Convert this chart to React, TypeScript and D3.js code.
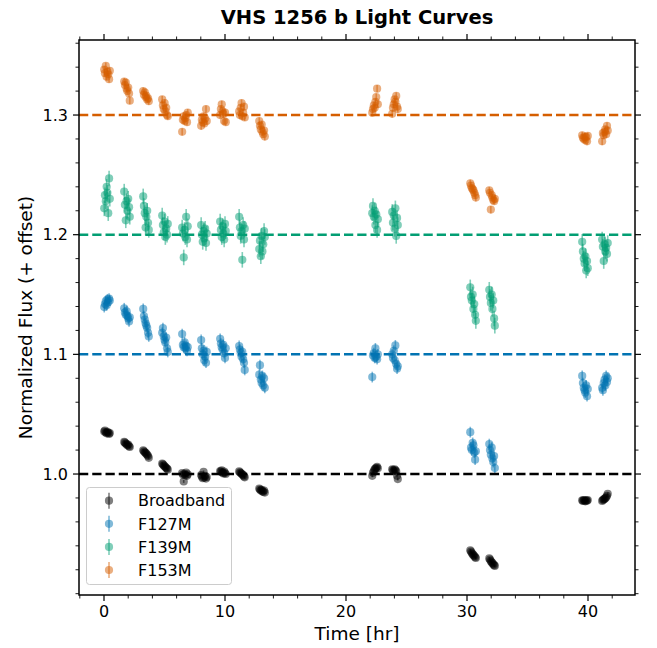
import React from "react";
import * as d3 from "d3";

// Observation times (hr), 8 exposures per HST orbit, shared by all series
const times: number[] = [
  0.02, 0.08, 0.15, 0.22, 0.28, 0.35, 0.42, 0.48,
  1.67, 1.73, 1.8, 1.87, 1.93, 2.0, 2.07, 2.13,
  3.24, 3.3, 3.37, 3.44, 3.5, 3.57, 3.64, 3.7,
  4.81, 4.87, 4.94, 5.01, 5.07, 5.14, 5.21, 5.27,
  6.46, 6.52, 6.59, 6.66, 6.72, 6.79, 6.86, 6.92,
  8.03, 8.09, 8.16, 8.23, 8.29, 8.36, 8.43, 8.49,
  9.6, 9.66, 9.73, 9.8, 9.86, 9.93, 10.0, 10.06,
  11.17, 11.23, 11.3, 11.37, 11.43, 11.5, 11.57, 11.63,
  12.83, 12.89, 12.96, 13.03, 13.09, 13.16, 13.23, 13.29,
  22.17, 22.23, 22.3, 22.37, 22.43, 22.5, 22.57, 22.63,
  23.82, 23.88, 23.95, 24.02, 24.08, 24.15, 24.22, 24.28,
  30.27, 30.33, 30.4, 30.47, 30.53, 30.6, 30.67, 30.73,
  31.84, 31.9, 31.97, 32.04, 32.1, 32.17, 32.24, 32.3,
  39.52, 39.58, 39.65, 39.72, 39.78, 39.85, 39.92, 39.98,
  41.17, 41.23, 41.3, 41.37, 41.43, 41.5, 41.57, 41.63,
];

const broadbandFlux: number[] = [
  1.0355, 1.0362, 1.0348, 1.034, 1.0352, 1.0345, 1.0335, 1.0342,
  1.0268, 1.0262, 1.0255, 1.0248, 1.024, 1.0245, 1.0232, 1.0226,
  1.0198, 1.019, 1.0182, 1.0176, 1.0168, 1.016, 1.015, 1.0135,
  1.0088, 1.008, 1.0072, 1.0065, 1.0058, 1.005, 1.0045, 1.0036,
  1.0008, 0.9995, 0.9938, 1.0002, 0.999, 1.0012, 0.9985, 0.9998,
  0.9992, 0.9978, 0.9965, 1.0018, 0.997, 0.9985, 0.9962, 0.9975,
  1.0025, 1.0018, 1.003, 1.0012, 1.0005, 1.002, 1.0008, 1.0,
  1.0022, 1.0015, 1.0008, 1.0002, 0.9995, 0.999, 0.998, 0.9972,
  0.9878, 0.987, 0.9862, 0.9868, 0.9855, 0.985, 0.9862, 0.9845,
  0.9985, 1.001, 1.0025, 1.0038, 1.0045, 1.0052, 1.006, 1.0048,
  1.004, 1.0032, 1.0025, 1.0038, 1.003, 1.0022, 0.9985, 0.9958,
  0.9362, 0.9352, 0.934, 0.933, 0.9322, 0.9315, 0.9305, 0.9298,
  0.9295, 0.9285, 0.9272, 0.9262, 0.9255, 0.9245, 0.9238, 0.9232,
  0.978, 0.9775, 0.9782, 0.9778, 0.9772, 0.978, 0.9776, 0.9783,
  0.9775, 0.9782, 0.9788, 0.9792, 0.9798, 0.9805, 0.9818, 0.9835,
];

const f127mFlux: number[] = [
  1.1395, 1.142, 1.1445, 1.141, 1.146, 1.1435, 1.1465, 1.145,
  1.1385, 1.135, 1.133, 1.136, 1.132, 1.13, 1.1275, 1.131,
  1.138, 1.132, 1.129, 1.126, 1.124, 1.122, 1.118, 1.115,
  1.118, 1.122, 1.115, 1.112, 1.11, 1.114, 1.105, 1.102,
  1.117, 1.108, 1.106, 1.11, 1.105, 1.107, 1.103, 1.106,
  1.112, 1.105, 1.1, 1.103, 1.095, 1.098, 1.093, 1.102,
  1.113, 1.109, 1.106, 1.104, 1.108, 1.101, 1.097, 1.105,
  1.107, 1.104, 1.101, 1.098, 1.102, 1.096, 1.093, 1.087,
  1.083, 1.091, 1.079, 1.076, 1.082, 1.074, 1.08, 1.072,
  1.081, 1.099, 1.101, 1.097, 1.105, 1.098, 1.096, 1.1,
  1.1, 1.097, 1.103, 1.095, 1.1075, 1.092, 1.088, 1.09,
  1.035, 1.022, 1.02, 1.026, 1.024, 1.018, 1.012, 1.019,
  1.025, 1.02, 1.016, 1.022, 1.013, 1.01, 1.015, 1.005,
  1.082, 1.076, 1.072, 1.07, 1.068, 1.074, 1.065, 1.071,
  1.072, 1.07, 1.076, 1.079, 1.074, 1.082, 1.077, 1.08,
];

const f139mFlux: number[] = [
  1.222, 1.233, 1.228, 1.24, 1.235, 1.218, 1.247, 1.23,
  1.236, 1.225, 1.212, 1.228, 1.22, 1.23, 1.223, 1.215,
  1.232, 1.224, 1.218, 1.206, 1.215, 1.22, 1.21, 1.204,
  1.216, 1.208, 1.202, 1.211, 1.198, 1.205, 1.2, 1.209,
  1.206, 1.201, 1.181, 1.204, 1.198, 1.215, 1.196, 1.207,
  1.208, 1.2, 1.194, 1.203, 1.197, 1.205, 1.193, 1.201,
  1.211, 1.204, 1.198, 1.207, 1.201, 1.196, 1.209, 1.203,
  1.215, 1.206, 1.199, 1.203, 1.179, 1.208, 1.196, 1.205,
  1.188, 1.195, 1.182, 1.199, 1.186, 1.192, 1.203, 1.198,
  1.218, 1.224, 1.215, 1.22, 1.208, 1.217, 1.204, 1.213,
  1.219, 1.21, 1.216, 1.205, 1.222, 1.199, 1.214, 1.208,
  1.156, 1.148, 1.145, 1.15, 1.138, 1.142, 1.133, 1.128,
  1.154, 1.148, 1.143, 1.15, 1.138, 1.145, 1.13, 1.124,
  1.194, 1.186, 1.18, 1.176, 1.182, 1.17, 1.178, 1.172,
  1.196, 1.19, 1.178, 1.192, 1.186, 1.189, 1.184, 1.193,
];

const f153mFlux: number[] = [
  1.338, 1.335, 1.341, 1.332, 1.336, 1.334, 1.33, 1.337,
  1.328, 1.325, 1.327, 1.322, 1.32, 1.323, 1.318, 1.312,
  1.32, 1.317, 1.319, 1.315, 1.316, 1.313, 1.314, 1.3115,
  1.313, 1.308, 1.305, 1.31, 1.303, 1.306, 1.3, 1.299,
  1.286, 1.296, 1.299, 1.295, 1.2975, 1.3, 1.294, 1.302,
  1.291, 1.296, 1.294, 1.299, 1.293, 1.297, 1.305, 1.295,
  1.3, 1.305, 1.309, 1.303, 1.301, 1.295, 1.302, 1.294,
  1.303, 1.3, 1.306, 1.31, 1.299, 1.302, 1.307, 1.298,
  1.295, 1.291, 1.288, 1.292, 1.286, 1.284, 1.287, 1.282,
  1.302, 1.305, 1.308, 1.306, 1.311, 1.315, 1.322, 1.309,
  1.301, 1.306, 1.309, 1.313, 1.311, 1.316, 1.307, 1.305,
  1.243, 1.241, 1.239, 1.238, 1.237, 1.235, 1.233, 1.231,
  1.237, 1.235, 1.221, 1.233, 1.231, 1.229, 1.228, 1.23,
  1.283, 1.281, 1.28, 1.282, 1.279, 1.2815, 1.278, 1.2825,
  1.278, 1.285, 1.283, 1.286, 1.288, 1.284, 1.291, 1.287,
];

const seriesNames = ["Broadband", "F127M", "F139M", "F153M"];
const seriesColors = ["#000000", "#0173B2", "#029E73", "#D55E00"];
const seriesErrors = [0.0012, 0.0045, 0.0065, 0.003];
const seriesFlux = [broadbandFlux, f127mFlux, f139mFlux, f153mFlux];
const baselines = [1.0, 1.1, 1.2, 1.3];

const xMajorTicks = [0, 10, 20, 30, 40];
const yMajorTicks = [1.0, 1.1, 1.2, 1.3];
const xMinorTicks = [-2, 2, 4, 6, 8, 12, 14, 16, 18, 22, 24, 26, 28, 32, 34, 36, 38, 42];
const yMinorTicks = [0.9, 0.92, 0.94, 0.96, 0.98, 1.02, 1.04, 1.06, 1.08, 1.12, 1.14, 1.16, 1.18, 1.22, 1.24, 1.26, 1.28, 1.32, 1.34, 1.36];

const W = 657;
const H = 648;
const L = 79, R = 635, T = 40, B = 595;
const FONT = "DejaVu Sans, Verdana, sans-serif";

export default function App() {
  const x = d3.scaleLinear().domain([-2.066, 43.884]).range([L, R]);
  const y = d3.scaleLinear().domain([0.8989, 1.3627]).range([B, T]);
  const MAJ = 6, MIN = 3.5;

  return (
    <svg width={W} height={H} style={{ position: "absolute", left: 0, top: 0, background: "#fff" }} fontFamily={FONT}>
      <rect x={0} y={0} width={W} height={H} fill="#fff" />
      <defs>
        <clipPath id="plotclip"><rect x={L} y={T} width={R - L} height={B - T} /></clipPath>
      </defs>
      <g clipPath="url(#plotclip)">
        {seriesFlux.map((fl, si) => (
          <g key={si}>
            {fl.map((f, i) => (
              <line key={"e" + i} x1={x(times[i])} x2={x(times[i])} y1={y(f - seriesErrors[si])} y2={y(f + seriesErrors[si])}
                stroke={seriesColors[si]} strokeWidth={1.6} strokeOpacity={0.5} />
            ))}
            {fl.map((f, i) => (
              <circle key={"c" + i} cx={x(times[i])} cy={y(f)} r={4.1} fill={seriesColors[si]} fillOpacity={0.5} />
            ))}
          </g>
        ))}
        {baselines.map((b, i) => (
          <line key={"b" + i} x1={L} x2={R} y1={y(b)} y2={y(b)} stroke={seriesColors[i]} strokeWidth={2.5} strokeDasharray="9.25,4" />
        ))}
      </g>
      {/* ticks */}
      <g stroke="#000">
        {xMajorTicks.map((t) => (
          <g key={"xM" + t}>
            <line x1={x(t)} x2={x(t)} y1={B} y2={B + MAJ} strokeWidth={1.2} />
            <line x1={x(t)} x2={x(t)} y1={T} y2={T - MAJ} strokeWidth={1.2} />
          </g>
        ))}
        {xMinorTicks.map((t) => (
          <g key={"xm" + t}>
            <line x1={x(t)} x2={x(t)} y1={B} y2={B + MIN} strokeWidth={0.9} />
            <line x1={x(t)} x2={x(t)} y1={T} y2={T - MIN} strokeWidth={0.9} />
          </g>
        ))}
        {yMajorTicks.map((t) => (
          <g key={"yM" + t}>
            <line x1={L} x2={L - MAJ} y1={y(t)} y2={y(t)} strokeWidth={1.2} />
            <line x1={R} x2={R + MAJ} y1={y(t)} y2={y(t)} strokeWidth={1.2} />
          </g>
        ))}
        {yMinorTicks.map((t) => (
          <g key={"ym" + t}>
            <line x1={L} x2={L - MIN} y1={y(t)} y2={y(t)} strokeWidth={0.9} />
            <line x1={R} x2={R + MIN} y1={y(t)} y2={y(t)} strokeWidth={0.9} />
          </g>
        ))}
      </g>
      <rect x={L} y={T} width={R - L} height={B - T} fill="none" stroke="#000" strokeWidth={1.5} />
      {xMajorTicks.map((t) => (
        <text key={"xl" + t} x={x(t)} y={B + 22} textAnchor="middle" fontSize={16} fill="#000">{String(t)}</text>
      ))}
      {yMajorTicks.map((t) => (
        <text key={"yl" + t} x={L - 11} y={y(t)} dy="0.36em" textAnchor="end" fontSize={16} fill="#000">{t.toFixed(1)}</text>
      ))}
      <text x={(L + R) / 2} y={640} textAnchor="middle" fontSize={18.5} fill="#000">Time [hr]</text>
      <text transform={`translate(32,${(T + B) / 2}) rotate(-90)`} textAnchor="middle" fontSize={18.5} fill="#000">Normalized Flux (+ offset)</text>
      <text x={(L + R) / 2} y={24} textAnchor="middle" fontSize={19.5} fontWeight="bold" fill="#000">VHS 1256 b Light Curves</text>
      {/* legend */}
      <g>
        <rect x={86.5} y={487.5} width={145} height={97} rx={3} fill="#fff" fillOpacity={0.8} stroke="#cccccc" strokeWidth={1} />
        {seriesNames.map((n, i) => {
          const ly = 500.7 + i * 23.1;
          return (
            <g key={"lg" + i}>
              <line x1={109} x2={109} y1={ly - 8} y2={ly + 8} stroke={seriesColors[i]} strokeWidth={1.6} strokeOpacity={0.5} />
              <circle cx={109} cy={ly} r={4.1} fill={seriesColors[i]} fillOpacity={0.5} />
              <text x={138} y={ly} dy="0.36em" fontSize={16} fill="#000">{n}</text>
            </g>
          );
        })}
      </g>
    </svg>
  );
}
